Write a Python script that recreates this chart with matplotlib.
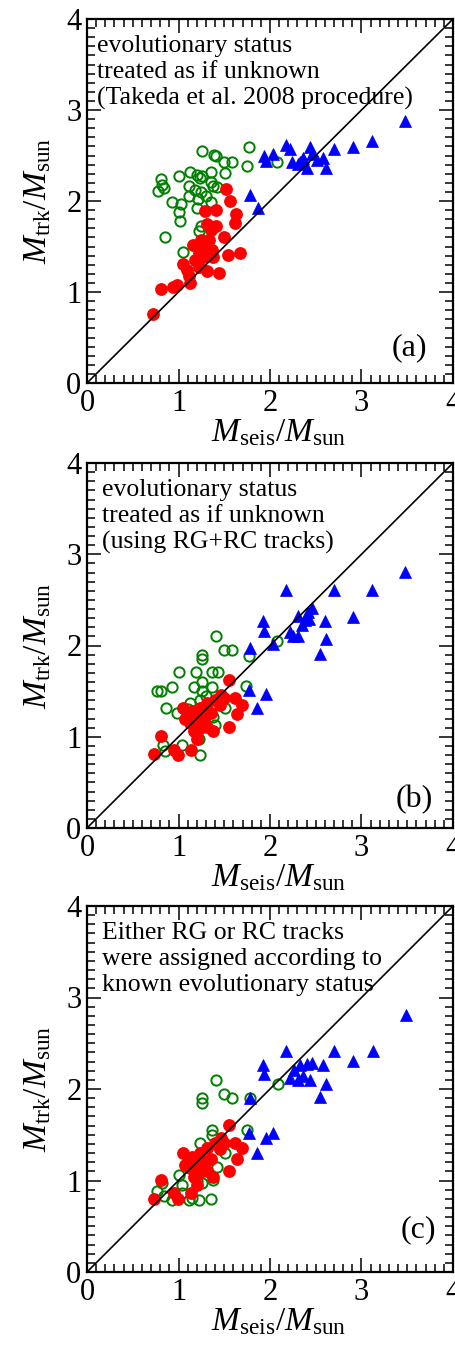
import matplotlib
matplotlib.use('Agg')
import matplotlib.pyplot as plt
from matplotlib.ticker import MultipleLocator

plt.rcParams['font.family'] = ['Liberation Serif', 'DejaVu Serif']
plt.rcParams['mathtext.fontset'] = 'custom'
plt.rcParams['mathtext.rm'] = 'Liberation Serif'
plt.rcParams['mathtext.it'] = 'Liberation Serif:italic'

# ---- panel (a) ----
green_a_x = [1.26, 1.39, 1.41, 1.50, 1.58, 1.51, 1.77, 1.75, 2.08, 1.01, 1.13, 1.26, 1.20, 1.36,
             0.81, 0.82, 0.78, 0.84, 1.11, 1.18, 1.25, 1.36, 1.38, 1.42, 1.12, 1.21, 1.35, 0.93,
             1.03, 1.00, 1.20, 1.02, 0.85, 1.22, 1.25, 1.05, 1.30, 1.23]
green_a_y = [2.55, 2.51, 2.49, 2.43, 2.43, 2.31, 2.59, 2.38, 2.43, 2.28, 2.32, 2.27, 2.29, 2.32,
             2.24, 2.18, 2.11, 2.14, 2.16, 2.12, 2.10, 2.21, 2.16, 2.15, 2.05, 2.02, 1.99, 1.99,
             1.97, 1.88, 1.92, 1.78, 1.60, 1.67, 1.72, 1.44, 2.05, 2.25]
red_a_x = [1.52, 1.56, 1.29, 1.41, 1.63, 1.62, 1.31, 1.41, 1.36, 1.50, 1.25, 1.16, 1.33, 1.25,
           1.37, 1.54, 1.67, 1.18, 1.05, 1.09, 1.22, 1.31, 1.44, 1.13, 0.98, 0.94, 0.81, 0.72,
           1.22, 1.27, 1.12, 1.30, 1.38]
red_a_y = [2.13, 2.00, 1.89, 1.90, 1.86, 1.76, 1.75, 1.72, 1.68, 1.60, 1.57, 1.52, 1.57, 1.48,
           1.46, 1.41, 1.43, 1.35, 1.31, 1.24, 1.28, 1.23, 1.21, 1.10, 1.08, 1.06, 1.03, 0.76,
           1.43, 1.38, 1.18, 1.52, 1.38]
blue_a_x = [3.48, 3.12, 2.91, 2.70, 2.18, 2.22, 2.44, 1.93, 2.03, 1.96, 2.24, 2.31, 2.36, 2.40,
            2.46, 2.51, 2.58, 2.61, 2.33, 1.78, 1.87]
blue_a_y = [2.88, 2.66, 2.59, 2.57, 2.62, 2.57, 2.59, 2.50, 2.52, 2.44, 2.43, 2.41, 2.47, 2.36,
            2.52, 2.45, 2.47, 2.36, 2.43, 2.07, 1.92]

# ---- panel (b) ----
green_b_x = [1.41, 1.50, 1.58, 1.26, 1.26, 1.01, 1.19, 1.37, 1.43, 0.93, 0.77, 0.81, 1.17, 1.26,
             1.26, 1.37, 1.74, 1.77, 2.08, 0.86, 0.98, 1.13, 1.24, 1.51, 1.38, 1.40, 1.22, 1.22,
             1.04, 0.83, 0.85, 1.23, 1.30, 1.10]
green_b_y = [2.10, 1.95, 1.95, 1.90, 1.85, 1.71, 1.71, 1.71, 1.71, 1.55, 1.50, 1.50, 1.55, 1.60,
             1.50, 1.55, 1.56, 1.89, 2.05, 1.31, 1.26, 1.37, 1.40, 1.31, 1.22, 1.13, 1.09, 0.98,
             0.91, 0.91, 0.84, 0.80, 1.45, 1.30]
red_b_x = [1.55, 1.62, 1.69, 1.64, 1.55, 1.38, 1.46, 1.40, 1.31, 1.24, 1.15, 1.05, 1.07, 1.13,
           1.20, 1.28, 1.35, 1.31, 1.17, 1.20, 1.14, 0.81, 0.95, 0.99, 0.73, 1.22, 1.10, 1.25,
           1.45, 1.50]
red_b_y = [1.62, 1.42, 1.35, 1.25, 1.11, 1.06, 1.46, 1.40, 1.37, 1.31, 1.28, 1.31, 1.19, 1.15,
           1.22, 1.19, 1.26, 1.11, 1.06, 0.97, 0.86, 1.01, 0.86, 0.80, 0.81, 1.09, 1.20, 1.25,
           1.35, 1.42]
blue_b_x = [3.48, 3.12, 2.70, 2.18, 2.91, 2.46, 2.42, 2.31, 2.38, 2.43, 2.35, 2.60, 2.22, 2.31,
            2.25, 2.61, 2.55, 1.92, 1.93, 2.03, 1.78, 1.77, 1.96, 1.86]
blue_b_y = [2.81, 2.61, 2.61, 2.61, 2.31, 2.41, 2.37, 2.32, 2.28, 2.29, 2.22, 2.27, 2.15, 2.10,
            2.10, 2.07, 1.91, 2.27, 2.16, 2.02, 1.97, 1.51, 1.47, 1.31]

# ---- panel (c) ----
green_c_x = [1.41, 1.50, 1.58, 1.26, 1.26, 1.78, 2.09, 1.75, 1.37, 1.37, 1.24, 1.51, 1.42, 1.28,
             1.00, 1.38, 1.26, 1.04, 0.82, 0.77, 0.84, 0.93, 1.11, 1.22, 1.35, 1.15, 1.04, 1.20]
green_c_y = [2.10, 1.95, 1.90, 1.90, 1.85, 1.90, 2.05, 1.55, 1.55, 1.50, 1.41, 1.30, 1.15, 1.15,
             1.06, 1.01, 0.97, 0.95, 0.97, 0.88, 0.83, 0.79, 0.79, 0.79, 0.80, 0.81, 0.86, 1.00]
red_c_x = [1.55, 1.62, 1.69, 1.64, 1.55, 1.38, 1.46, 1.40, 1.31, 1.24, 1.05, 1.15, 1.07, 1.13,
           1.20, 1.28, 1.35, 1.31, 1.17, 1.20, 1.14, 0.81, 0.95, 0.99, 0.73, 1.22, 1.10, 1.25,
           1.45, 1.50]
red_c_y = [1.61, 1.41, 1.35, 1.24, 1.10, 1.04, 1.46, 1.41, 1.35, 1.30, 1.30, 1.26, 1.17, 1.14,
           1.21, 1.17, 1.24, 1.10, 1.04, 0.95, 0.86, 1.01, 0.86, 0.80, 0.80, 1.08, 1.19, 1.24,
           1.34, 1.41]
blue_c_x = [3.49, 3.13, 2.70, 2.18, 2.91, 1.92, 1.93, 2.26, 2.33, 2.40, 2.46, 2.58, 2.22, 2.31,
            2.44, 2.61, 2.55, 1.78, 1.77, 1.96, 2.03, 1.86, 2.36]
blue_c_y = [2.81, 2.41, 2.41, 2.41, 2.31, 2.26, 2.16, 2.21, 2.26, 2.27, 2.28, 2.26, 2.12, 2.10,
            2.10, 2.05, 1.91, 1.90, 1.52, 1.46, 1.52, 1.30, 2.14]

notes = ['evolutionary status\ntreated as if unknown\n(Takeda et al. 2008 procedure)',
         'evolutionary status\ntreated as if unknown\n(using RG+RC tracks)',
         'Either RG or RC tracks\nwere assigned according to\nknown evolutionary status']
tags = ['(a)', '(b)', '(c)']

panels = [
    (green_a_x, green_a_y, red_a_x, red_a_y, blue_a_x, blue_a_y),
    (green_b_x, green_b_y, red_b_x, red_b_y, blue_b_x, blue_b_y),
    (green_c_x, green_c_y, red_c_x, red_c_y, blue_c_x, blue_c_y),
]

W, H = 456, 1347
fig = plt.figure(figsize=(W / 100, H / 100), dpi=100)

# axes boxes in pixels: (left, top, right, bottom)
boxes = [(87, 19, 453, 383), (87, 463, 453, 828), (87, 906, 453, 1272)]
note_x = [0.027, 0.041, 0.041]
tag_pos = [(0.928, 0.096), (0.944, 0.079), (0.954, 0.115)]

for i, (gx, gy, rx, ry, bx, by) in enumerate(panels):
    l, t, r, b = boxes[i]
    ax = fig.add_axes([l / W, 1 - b / H, (r - l) / W, (b - t) / H])

    ax.plot(gx, gy, 'o', ms=7.4, mfc='none', mec='green', mew=1.4, zorder=2)
    ax.plot(rx, ry, 'o', ms=8.2, color='red', mec='red', zorder=3)
    ax.plot(bx, by, '^', ms=9, color='blue', mec='blue', mew=0.5, zorder=4)
    ax.plot([0, 4], [0, 4], color='black', lw=1.2, zorder=5)

    ax.set_xlim(0, 4)
    ax.set_ylim(0, 4)
    ax.xaxis.set_major_locator(MultipleLocator(1))
    ax.yaxis.set_major_locator(MultipleLocator(1))
    ax.xaxis.set_minor_locator(MultipleLocator(0.1))
    ax.yaxis.set_minor_locator(MultipleLocator(0.1))
    ax.tick_params(which='both', direction='in', top=True, right=True, labelsize=22, width=1.1)
    ax.tick_params(which='major', length=10, pad=4)
    ax.tick_params(which='minor', length=5.5)
    for s in ax.spines.values():
        s.set_linewidth(1.6)

    ax.set_xlabel(r'$M_{\rm seis}/M_{\rm sun}$', fontsize=24, labelpad=0, x=0.525)
    ax.set_ylabel(r'$M_{\rm trk}/M_{\rm sun}$', fontsize=24, labelpad=9)

    ax.text(note_x[i], 0.955, notes[i], transform=ax.transAxes, fontsize=18.5,
            ha='left', va='top', linespacing=1.22, zorder=6)
    ax.text(tag_pos[i][0], tag_pos[i][1], tags[i], transform=ax.transAxes,
            fontsize=23, ha='right', va='center')

fig.savefig('out.png', dpi=100)
